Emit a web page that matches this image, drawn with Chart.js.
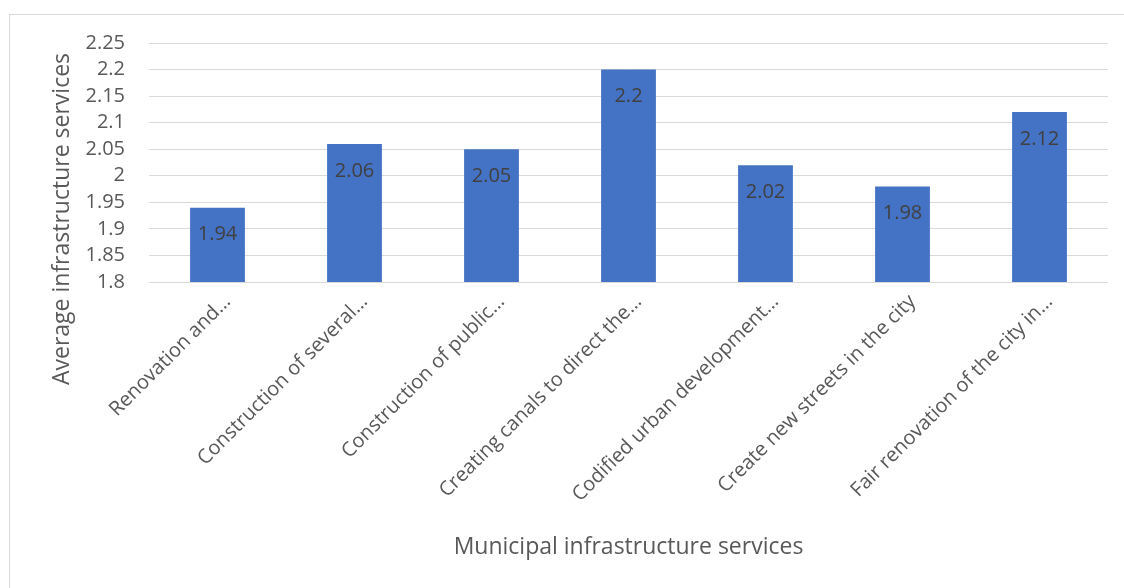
<!DOCTYPE html>
<html>
<head>
<meta charset="utf-8">
<script src="https://cdn.jsdelivr.net/npm/chart.js@4"></script>
<style>
  html, body { margin: 0; padding: 0; background: #ffffff; overflow: hidden; }
  #wrap { position: relative; width: 1124px; height: 588px; }
  #frame { position: absolute; left: 9px; top: 14px; width: 1130px; height: 600px; border: 1px solid #d9d9d9; box-sizing: border-box; pointer-events: none; }
  canvas { position: absolute; left: 0; top: 0; }
</style>
</head>
<body>
<div id="wrap">
  <div id="frame"></div>
  <canvas id="c" width="1124" height="588"></canvas>
</div>
<script>
const categories = [
  "Renovation and…",
  "Construction of several…",
  "Construction of public…",
  "Creating canals to direct the…",
  "Codified urban development…",
  "Create new streets in the city",
  "Fair renovation of the city in…"
];
const values = [1.94, 2.06, 2.05, 2.2, 2.02, 1.98, 2.12];
const yTickValues = [1.8, 1.85, 1.9, 1.95, 2, 2.05, 2.1, 2.15, 2.2, 2.25];
const yTitle = "Average infrastructure services";
const xTitle = "Municipal infrastructure services";

const FONT = "'Open Sans', 'Liberation Sans', sans-serif";

const labelPlugin = {
  id: 'labels',
  afterDatasetsDraw(chart) {
    const ctx = chart.ctx;
    const meta = chart.getDatasetMeta(0);
    ctx.save();
    ctx.font = "20px " + FONT;
    ctx.fillStyle = "#404040";
    ctx.textAlign = "center";
    ctx.textBaseline = "middle";
    meta.data.forEach((bar, i) => {
      ctx.fillText(String(values[i]), bar.x, bar.y + 27);
    });
    ctx.restore();
  },
  afterDraw(chart) {
    const ctx = chart.ctx;
    ctx.save();
    ctx.font = "23px " + FONT;
    ctx.fillStyle = "#595959";
    ctx.textAlign = "center";
    ctx.textBaseline = "middle";
    ctx.translate(62, 219);
    ctx.rotate(-Math.PI / 2);
    ctx.fillText(yTitle, 0, 0);
    ctx.restore();
  }
};

new Chart(document.getElementById('c'), {
  type: 'bar',
  data: {
    labels: categories,
    datasets: [{
      data: values,
      backgroundColor: '#4472C4',
      borderWidth: 0,
      categoryPercentage: 1.0,
      barPercentage: 0.4
    }]
  },
  options: {
    responsive: false,
    animation: false,
    layout: { padding: { top: 43, right: 16, left: 0, bottom: 0 } },
    plugins: { legend: { display: false }, tooltip: { enabled: false } },
    scales: {
      x: {
        grid: { display: false, drawTicks: false },
        border: { display: false },
        ticks: {
          color: '#595959',
          font: { family: FONT, size: 20 },
          minRotation: 45,
          maxRotation: 45,
          autoSkip: false,
          labelOffset: 10,
          padding: 8
        },
        title: {
          display: true,
          text: xTitle,
          color: '#595959',
          font: { family: FONT, size: 23 },
          padding: { top: 0, bottom: 27 }
        },
        afterFit(scale) { scale.height = 306; }
      },
      y: {
        min: 1.8,
        max: 2.25,
        grid: { color: '#d9d9d9', lineWidth: 1, drawTicks: false },
        border: { display: false },
        afterBuildTicks(scale) { scale.ticks = yTickValues.map(v => ({ value: v })); },
        ticks: {
          color: '#595959',
          font: { family: FONT, size: 20 },
          autoSkip: false,
          padding: 24,
          callback: (v) => String(+Number(v).toFixed(2))
        },
        afterFit(scale) { scale.width = 149; }
      }
    }
  },
  plugins: [labelPlugin]
});
</script>
</body>
</html>
